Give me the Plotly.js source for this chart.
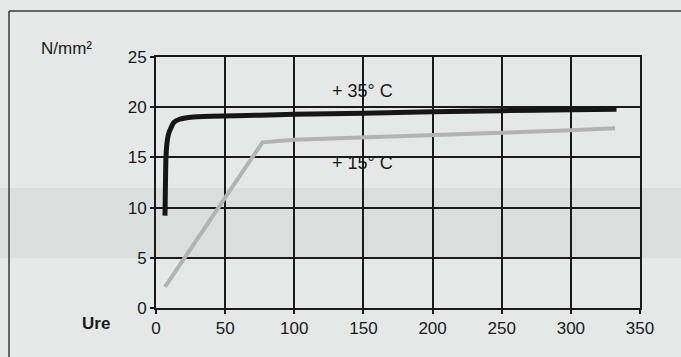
<!DOCTYPE html>
<html>
<head>
<meta charset="utf-8">
<script src="https://cdn.plot.ly/plotly-3.0.1.min.js"></script>
<style>html,body{margin:0;padding:0;background:#e4e8e6;}</style>
</head>
<body>
<div id="chart" style="width:681px;height:357px;"></div>
<script>
// Hours (Ure) vs strength (N/mm²)
const hours35 = [6.5, 6.8, 7.2, 8, 9, 11, 13, 17, 25, 40, 75, 100, 150, 200, 250, 300, 333];
const stress35 = [9.2, 12, 15, 16.5, 17.3, 18.0, 18.5, 18.8, 19.0, 19.1, 19.2, 19.3, 19.4, 19.55, 19.65, 19.75, 19.8];
const hours15 = [6.5, 77, 100, 150, 200, 250, 300, 332];
const stress15 = [2.1, 16.5, 16.75, 16.95, 17.2, 17.45, 17.7, 17.9];
const label35 = "+ 35° C";
const label15 = "+ 15° C";
const xTicks = [0, 50, 100, 150, 200, 250, 300, 350];
const yTicks = [0, 5, 10, 15, 20, 25];

const font = {family: "Liberation Sans, Arial, sans-serif", size: 17, color: "#1a1a1a"};
const annFont = {family: "Liberation Sans, Arial, sans-serif", size: 18, color: "#1a1a1a"};

const traces = [
  {x: hours15, y: stress15, mode: "lines", line: {color: "#b2b4b2", width: 4}, hoverinfo: "skip"},
  {x: hours35, y: stress35, mode: "lines", line: {color: "#161616", width: 5, shape: "spline", smoothing: 0.6}, hoverinfo: "skip"}
];

const axisCommon = {
  showgrid: true, gridcolor: "#1a1a1a", gridwidth: 2,
  showline: true, linecolor: "#1a1a1a", linewidth: 2, mirror: true,
  ticks: "outside", ticklen: 4, tickwidth: 2, tickcolor: "#1a1a1a",
  zeroline: false, tickfont: font, fixedrange: true
};

const layout = {
  width: 681, height: 357,
  margin: {l: 156, r: 41, t: 57, b: 49},
  paper_bgcolor: "#e4e8e6",
  plot_bgcolor: "rgba(0,0,0,0)",
  showlegend: false,
  font: font,
  xaxis: Object.assign({}, axisCommon, {range: [0, 350], tickvals: xTicks, ticktext: xTicks.map(String)}),
  yaxis: Object.assign({}, axisCommon, {range: [0, 25], tickvals: yTicks, ticktext: yTicks.map(String)}),
  shapes: [
    {type: "rect", xref: "paper", yref: "paper", x0: -0.35, x1: 1.1, y0: (308-258)/251, y1: (308-188)/251,
     fillcolor: "#dadfdd", line: {width: 0}, layer: "below"},
    {type: "line", xref: "paper", yref: "paper", x0: (9-156)/484, x1: 1.1, y0: (308-11)/251, y1: (308-11)/251,
     line: {color: "#3a3a3a", width: 1.5}},
    {type: "line", xref: "paper", yref: "paper", x0: (9-156)/484, x1: (9-156)/484, y0: (308-11)/251, y1: -0.3,
     line: {color: "#3a3a3a", width: 1.5}}
  ],
  annotations: [
    {x: 149, y: 21.6, xref: "x", yref: "y", text: label35, showarrow: false, font: annFont},
    {x: 149, y: 14.4, xref: "x", yref: "y", text: label15, showarrow: false, font: annFont},
    {x: (66-156)/484, y: (308-48)/251, xref: "paper", yref: "paper", xanchor: "center", yanchor: "middle",
     text: "N/mm²", showarrow: false, font: font},
    {x: (96-156)/484, y: (308-323)/251, xref: "paper", yref: "paper", xanchor: "center", yanchor: "middle",
     text: "<b>Ure</b>", showarrow: false, font: font}
  ]
};

Plotly.newPlot("chart", traces, layout, {displayModeBar: false, staticPlot: true});
</script>
</body>
</html>
